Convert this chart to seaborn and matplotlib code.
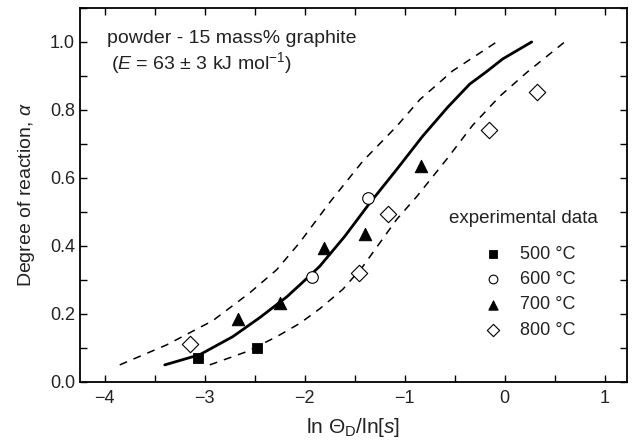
import numpy as np
import pandas as pd
import matplotlib
matplotlib.use("Agg")
import matplotlib.pyplot as plt
import seaborn as sns
from matplotlib.ticker import MultipleLocator

# experimental points
x_500 = [-3.07, -2.48]
y_500 = [0.07, 0.10]
x_600 = [-1.93, -1.37]
y_600 = [0.31, 0.54]
x_700 = [-2.67, -2.25, -1.81, -1.40, -0.84]
y_700 = [0.185, 0.233, 0.394, 0.434, 0.635]
x_800 = [-3.15, -1.46, -1.17, -0.16, 0.32]
y_800 = [0.11, 0.32, 0.495, 0.742, 0.852]

# master curve and the two error bounds (E = 63 +/- 3 kJ/mol)
fit_x = [-3.40, -3.05, -2.72, -2.45, -2.18, -2.05, -1.85, -1.60, -1.36, -1.08, -0.82,
         -0.57, -0.35, -0.18, -0.02, 0.27]
fit_y = [0.050, 0.080, 0.133, 0.189, 0.250, 0.285, 0.340, 0.428, 0.522, 0.625, 0.723,
         0.808, 0.876, 0.913, 0.950, 1.0]
low_x = [-3.85, -3.38, -2.92, -2.55, -2.28, -2.05, -1.75, -1.42, -1.08, -0.85, -0.52, -0.08]
low_y = [0.050, 0.109, 0.180, 0.262, 0.330, 0.410, 0.528, 0.649, 0.752, 0.830, 0.915, 1.0]
high_x = [-2.95, -2.58, -2.28, -2.05, -1.85, -1.62, -1.42, -1.08, -0.88, -0.58, -0.32,
          -0.05, 0.22, 0.60]
high_y = [0.050, 0.089, 0.133, 0.172, 0.215, 0.272, 0.339, 0.478, 0.545, 0.655, 0.755,
          0.840, 0.910, 1.0]

sns.set_style("ticks")
plt.rcParams['font.family'] = ['Liberation Sans', 'DejaVu Sans']
plt.rcParams['mathtext.fontset'] = 'custom'
plt.rcParams['mathtext.rm'] = 'Liberation Sans'
plt.rcParams['mathtext.it'] = 'Liberation Sans:italic'

fig = plt.figure(figsize=(6.33, 4.42), dpi=100)
ax = fig.add_axes([0.126, 0.136, 0.864, 0.846])

dash = (0, (5.2, 4.6))
sns.lineplot(x=fit_x, y=fit_y, ax=ax, color='black', lw=2.0, sort=False, estimator=None)
sns.lineplot(x=low_x, y=low_y, ax=ax, color='black', lw=1.1, sort=False, estimator=None,
             linestyle=dash)
sns.lineplot(x=high_x, y=high_y, ax=ax, color='black', lw=1.1, sort=False, estimator=None,
             linestyle=dash)

sns.scatterplot(x=x_500, y=y_500, ax=ax, marker='s', s=55, color='black',
                edgecolor='black', label='500 °C', zorder=5)
sns.scatterplot(x=x_600, y=y_600, ax=ax, marker='o', s=70, facecolor='white',
                edgecolor='black', linewidth=0.8, label='600 °C', zorder=5)
sns.scatterplot(x=x_700, y=y_700, ax=ax, marker='^', s=80, color='black',
                edgecolor='black', label='700 °C', zorder=5)
sns.scatterplot(x=x_800, y=y_800, ax=ax, marker='D', s=70, facecolor='white',
                edgecolor='black', linewidth=0.8, label='800 °C', zorder=5)

ax.set_xlim(-4.25, 1.22)
ax.set_ylim(0, 1.1)
ax.xaxis.set_major_locator(MultipleLocator(1))
ax.xaxis.set_minor_locator(MultipleLocator(0.5))
ax.yaxis.set_minor_locator(MultipleLocator(0.1))
ax.set_yticks(np.arange(0, 1.01, 0.2))
ax.yaxis.set_major_formatter(matplotlib.ticker.FormatStrFormatter('%.1f'))
ax.xaxis.set_major_formatter(matplotlib.ticker.FuncFormatter(
    lambda v, p: ('\u2212' if v < 0 else '') + '%d' % abs(v)))
ax.tick_params(which='both', direction='in', top=True, right=True, length=5,
               width=1.0, labelsize=13, color='black', labelcolor='#222222')
ax.tick_params(axis='x', pad=6)
for sp in ax.spines.values():
    sp.set_linewidth(1.3)
    sp.set_color('black')

ax.set_xlabel(r'ln $\Theta_\mathrm{D}$/ln[$s$]', fontsize=15, labelpad=6, color='#222222')
ax.set_ylabel(r'Degree of reaction, $\alpha$', fontsize=14, labelpad=9, color='#222222')

ax.text(0.049, 0.918, 'powder - 15 mass% graphite', transform=ax.transAxes,
        fontsize=14, va='center', ha='left', color='#222222')
ax.text(0.058, 0.853, r'($E$ = 63 ± 3 kJ mol$^{-1}$)', transform=ax.transAxes,
        fontsize=14, va='center', ha='left', color='#222222')
ax.text(0.676, 0.438, 'experimental data', transform=ax.transAxes,
        fontsize=13.5, va='center', ha='left', color='#222222')

leg = ax.legend(loc='upper left', bbox_to_anchor=(0.725, 0.384), frameon=False,
                fontsize=13, markerscale=0.75, handlelength=1.0, handletextpad=1.0,
                labelspacing=0.47, borderaxespad=0)
for t in leg.get_texts():
    t.set_color('#222222')

fig.savefig('out.png', dpi=100)
